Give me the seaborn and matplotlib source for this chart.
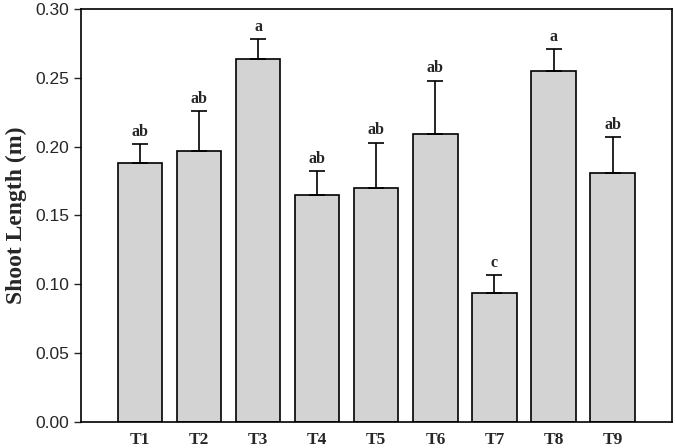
import pandas as pd
import matplotlib.pyplot as plt
import seaborn as sns

treatments = ['T1', 'T2', 'T3', 'T4', 'T5', 'T6', 'T7', 'T8', 'T9']
shoot_length = [0.188, 0.197, 0.264, 0.165, 0.170, 0.209, 0.094, 0.255, 0.181]
std_err = [0.014, 0.029, 0.014, 0.017, 0.033, 0.039, 0.013, 0.016, 0.026]
letters = ['ab', 'ab', 'a', 'ab', 'ab', 'ab', 'c', 'a', 'ab']

df = pd.DataFrame({'treatment': treatments, 'length': shoot_length, 'se': std_err})

sns.set_style("ticks")
serif = ['Liberation Serif', 'DejaVu Serif']
sans = ['Liberation Sans', 'DejaVu Sans']

fig, ax = plt.subplots(figsize=(6.75, 4.48), dpi=100)

sns.barplot(data=df, x='treatment', y='length', color='#d3d3d3', width=0.75,
            edgecolor='black', linewidth=1.2, errorbar=None, saturation=1, ax=ax)

# one-sided error bars
ax.errorbar(range(len(df)), df['length'], yerr=[[0] * len(df), df['se']],
            fmt='none', ecolor='black', elinewidth=1.2, capsize=6, capthick=1.2)

for i, (val, err, lab) in enumerate(zip(shoot_length, std_err, letters)):
    ax.annotate(lab, (i, val + err), xytext=(0, 3), textcoords='offset points',
                ha='center', va='bottom', fontsize=11.5, fontweight='bold', family=serif)

ax.set_xlim(-1, 9)
ax.set_ylim(0, 0.30)
ax.set_yticks([0.0, 0.05, 0.10, 0.15, 0.20, 0.25, 0.30])
ax.set_yticklabels([f'{t:.2f}' for t in ax.get_yticks()], family=sans, fontsize=12.5)
ax.set_xticks(range(len(treatments)))
ax.set_xticklabels(treatments, family=serif, fontsize=12.5, fontweight='bold')
ax.tick_params(axis='x', length=0, pad=7)
ax.tick_params(axis='y', direction='out', length=5, width=1)
ax.set_xlabel('')
ax.set_ylabel('Shoot Length (m)', family=serif, fontsize=17, fontweight='bold', labelpad=6)
for s in ax.spines.values():
    s.set_visible(True)
    s.set_linewidth(1.2)
    s.set_color('black')

plt.subplots_adjust(left=0.12, right=0.995, top=0.98, bottom=0.058)
plt.savefig('out.png', dpi=100)
plt.close()
